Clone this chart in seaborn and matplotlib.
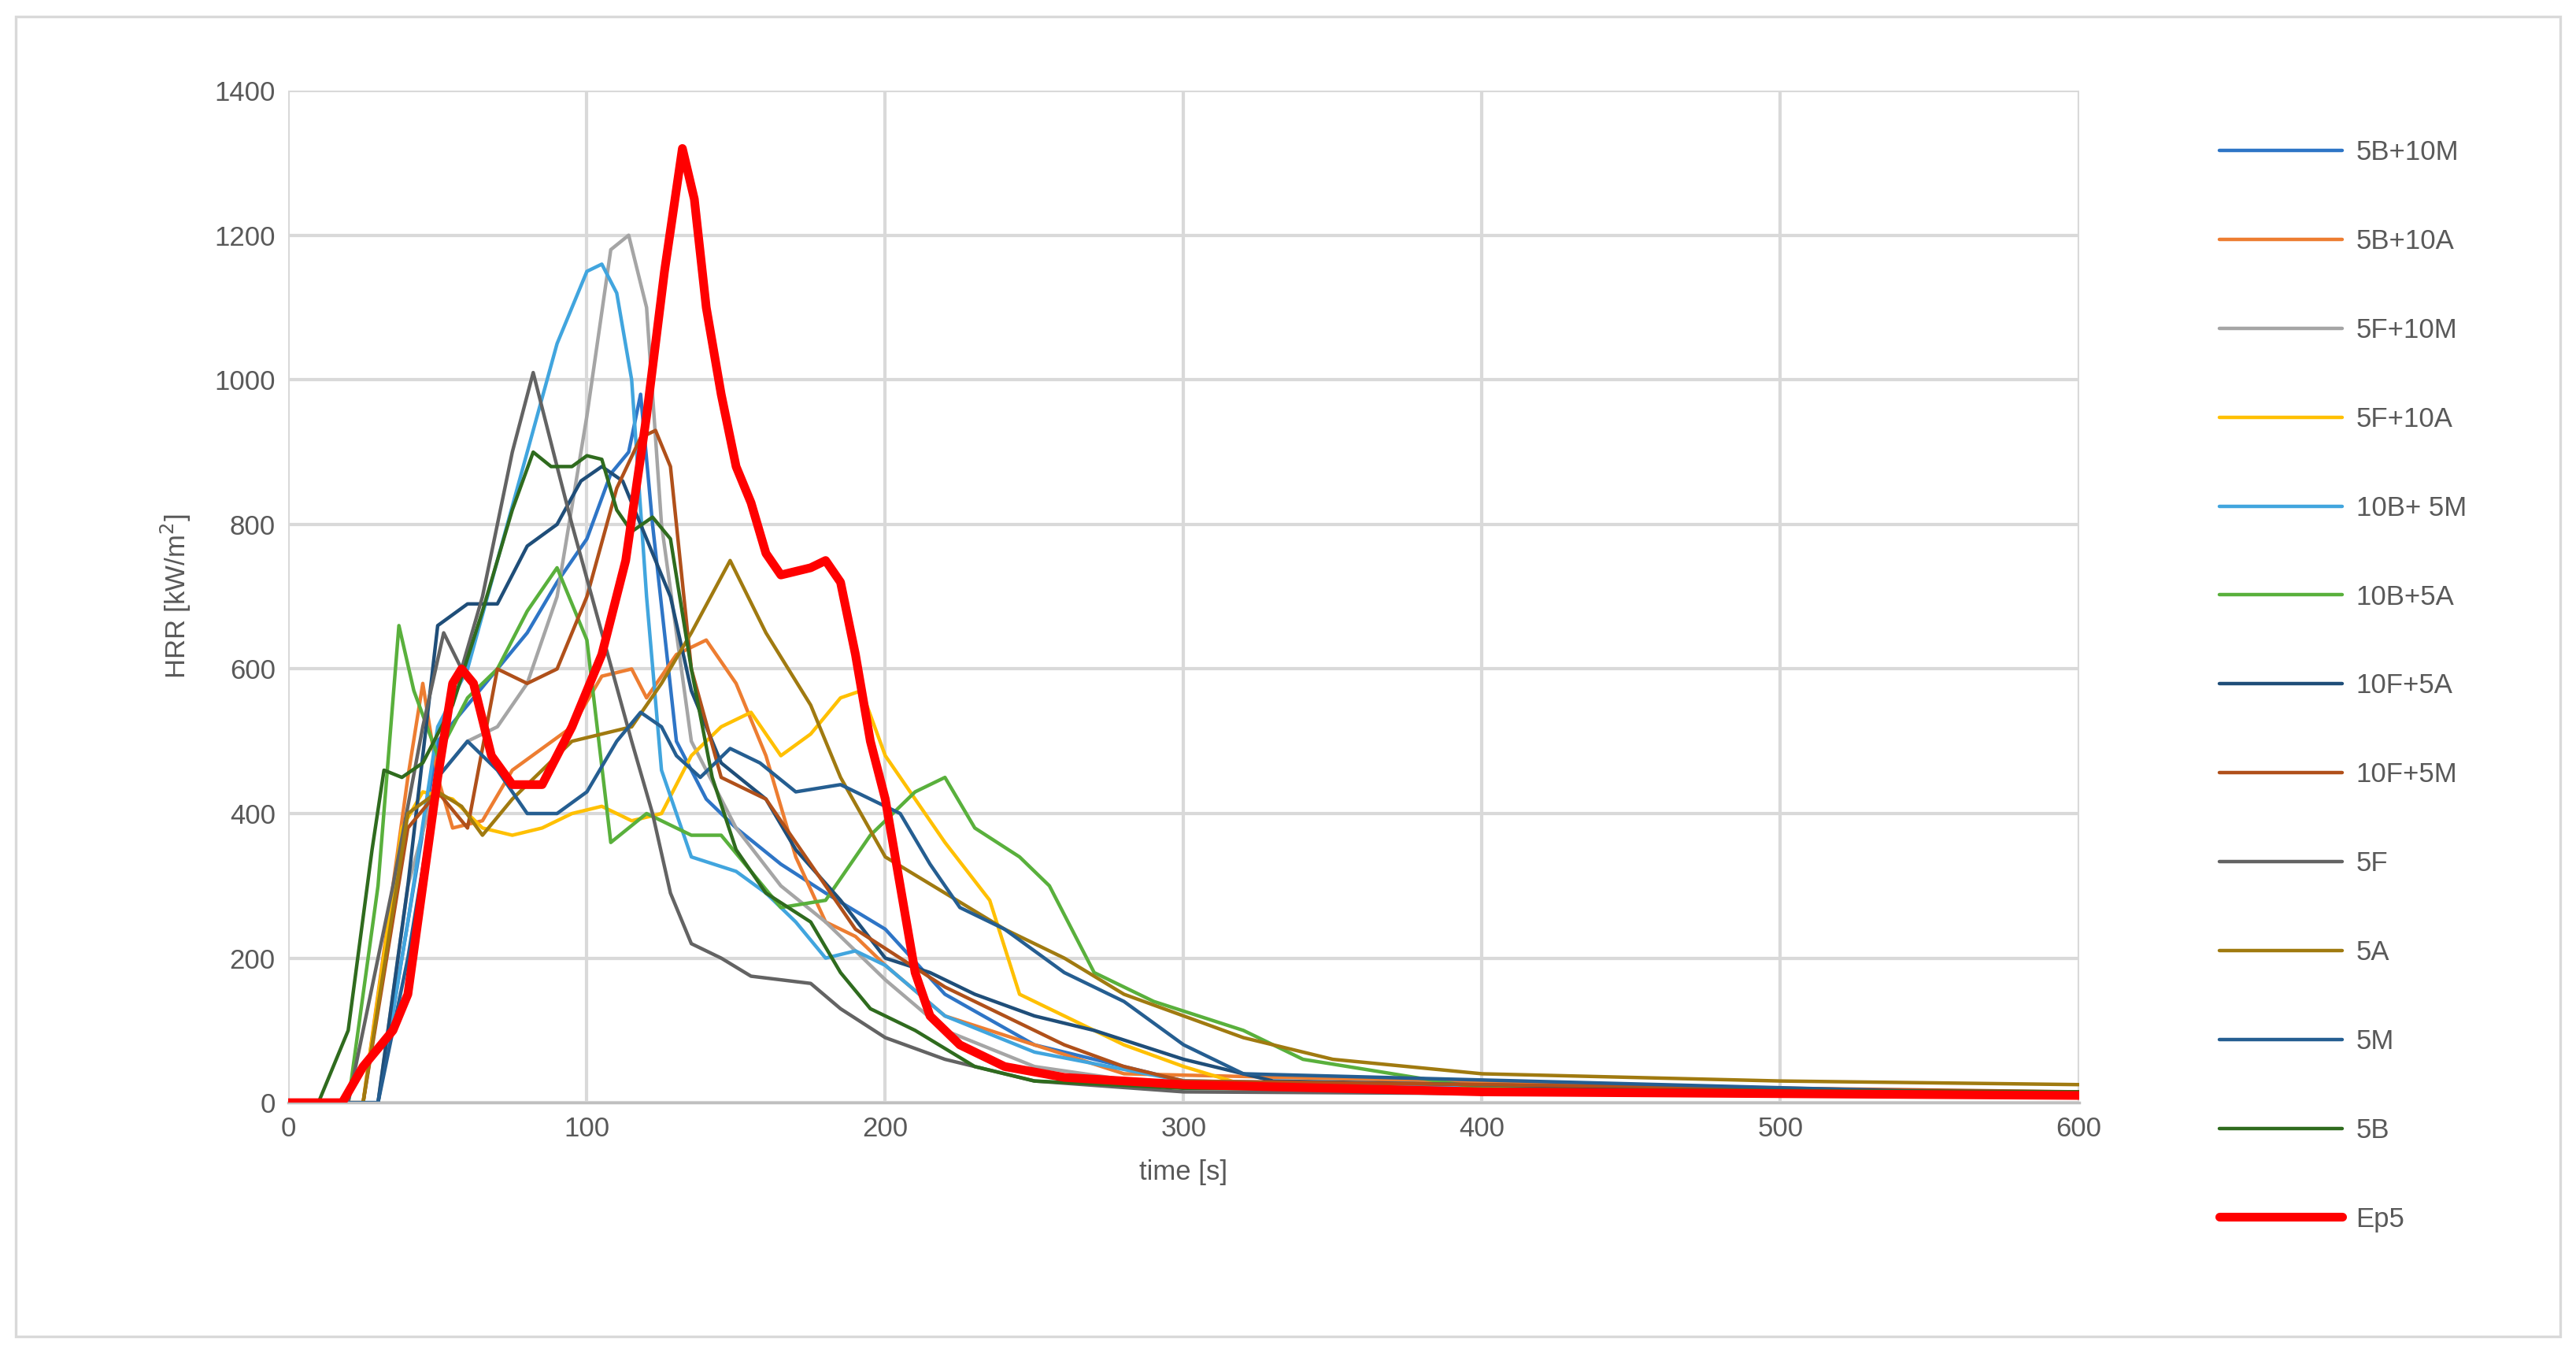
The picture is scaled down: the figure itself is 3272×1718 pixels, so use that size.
import matplotlib
matplotlib.use("Agg")
import matplotlib.pyplot as plt
import seaborn as sns
import pandas as pd
from matplotlib.patches import Rectangle

names = ["5B+10M","5B+10A","5F+10M","5F+10A","10B+ 5M","10B+5A","10F+5A","10F+5M","5F","5A","5M","5B","Ep5"]
colors = ["#2E75C6","#ED7D31","#A5A5A5","#FFC000","#41A5DE","#59B03C","#1F4E79","#B0501A","#636363","#A07A10","#255E91","#2F6B1E","#FF0000"]

t_5B10M = [0,30,40,50,60,70,80,90,100,108,114,118,122,130,140,150,165,180,200,220,250,300,600]
h_5B10M = [0,0,250,500,550,600,650,720,780,870,900,980,800,500,420,380,330,290,240,150,80,30,10]
t_5B10A = [0,25,40,45,50,55,65,75,85,95,105,115,120,130,140,150,160,170,180,190,200,220,250,280,600]
h_5B10A = [0,0,450,580,450,380,390,460,490,520,590,600,560,620,640,580,480,340,250,230,190,120,80,40,10]
t_5F10M = [0,30,40,50,60,70,80,90,100,108,114,120,125,135,150,165,180,200,220,250,300,600]
h_5F10M = [0,0,300,450,500,520,580,700,950,1180,1200,1100,800,500,380,300,250,170,100,50,20,10]
t_5F10A = [0,25,38,45,55,65,75,85,95,105,115,125,135,145,155,165,175,185,192,200,210,220,235,245,260,280,300,320,600]
h_5F10A = [0,0,380,430,420,380,370,380,400,410,390,400,480,520,540,480,510,560,570,480,420,360,280,150,120,80,50,25,10]
t_10B5M = [0,30,40,50,60,70,80,90,100,105,110,115,120,125,135,150,160,170,180,190,200,220,250,300,600]
h_10B5M = [0,0,250,520,600,750,900,1050,1150,1160,1120,1000,700,460,340,320,290,250,200,210,190,120,70,30,10]
t_10B5A = [0,20,30,37,42,50,60,70,80,90,100,108,120,135,145,155,165,180,195,210,220,230,245,255,270,290,320,340,400,600]
h_10B5A = [0,0,300,660,570,480,560,600,680,740,640,360,400,370,370,320,270,280,370,430,450,380,340,300,180,140,100,60,20,15]
t_10F5A = [0,30,40,50,60,70,80,90,98,105,112,120,128,135,145,160,170,185,200,215,230,250,270,300,330,600]
h_10F5A = [0,0,300,660,690,690,770,800,860,880,860,780,700,570,470,420,350,280,200,180,150,120,100,60,30,10]
t_10F5M = [0,25,40,50,60,70,80,90,100,110,118,123,128,135,145,160,175,190,205,220,240,260,280,300,600]
h_10F5M = [0,0,380,430,380,600,580,600,700,850,920,930,880,600,450,420,330,240,200,160,120,80,50,30,15]
t_5F = [0,20,35,45,52,58,65,75,82,90,95,105,115,122,128,135,145,155,175,185,200,220,250,300,600]
h_5F = [0,0,300,520,650,600,700,900,1010,880,800,650,500,400,290,220,200,175,165,130,90,60,30,15,8]
t_5A = [0,25,40,50,58,65,75,85,95,105,115,125,135,148,160,175,185,200,220,240,260,280,300,320,350,400,500,600]
h_5A = [0,0,400,430,410,370,420,460,500,510,520,580,650,750,650,550,450,340,290,240,200,150,120,90,60,40,30,25]
t_5M = [0,30,40,50,60,70,80,90,100,110,118,125,130,138,148,158,170,185,195,205,215,225,240,260,280,300,320,600]
h_5M = [0,0,200,450,500,460,400,400,430,500,540,520,480,450,490,470,430,440,420,400,330,270,240,180,140,80,40,10]
t_5B = [0,10,20,28,32,38,45,55,65,75,82,88,95,100,105,110,115,122,128,135,142,150,160,175,185,195,210,230,250,300,600]
h_5B = [0,0,100,350,460,450,470,550,680,820,900,880,880,895,890,820,790,810,780,600,450,350,290,250,180,130,100,50,30,20,15]
t_Ep5 = [0,18,25,35,40,45,50,55,58,62,68,75,85,95,105,113,120,126,132,136,140,145,150,155,160,165,175,180,185,190,195,200,205,210,215,225,240,260,300,400,600]
h_Ep5 = [0,0,50,100,150,300,450,580,600,580,480,440,440,520,620,750,950,1150,1320,1250,1100,980,880,830,760,730,740,750,720,620,500,420,300,180,120,80,50,35,25,15,10]

series = [(t_5B10M,h_5B10M),(t_5B10A,h_5B10A),(t_5F10M,h_5F10M),(t_5F10A,h_5F10A),
          (t_10B5M,h_10B5M),(t_10B5A,h_10B5A),(t_10F5A,h_10F5A),(t_10F5M,h_10F5M),
          (t_5F,h_5F),(t_5A,h_5A),(t_5M,h_5M),(t_5B,h_5B),(t_Ep5,h_Ep5)]

sns.set_theme(style="white")
plt.rcParams['font.family'] = ['Liberation Sans', 'DejaVu Sans']
fig = plt.figure(figsize=(16.36, 8.59), dpi=200)
ax = fig.add_axes([0.112, 0.185, 0.695, 0.748])
fig.patches.append(Rectangle((0.006, 0.012), 0.988, 0.976, transform=fig.transFigure,
                             fill=False, edgecolor="#D9D9D9", linewidth=1.2))

for name, col, (t, h) in zip(names, colors, series):
    df = pd.DataFrame({"t": t, "h": h})
    lw = 4.0 if name == "Ep5" else 1.6
    sns.lineplot(data=df, x="t", y="h", ax=ax, color=col, linewidth=lw, label=name, zorder=5 if name == "Ep5" else 2)

ax.set_xlim(0, 600)
ax.set_ylim(0, 1400)
ax.set_xticks(range(0, 601, 100))
ax.set_yticks(range(0, 1401, 200))
ax.grid(True, color="#D9D9D9", linewidth=1.5)
for s in ["top", "right", "left"]:
    ax.spines[s].set_visible(False)
ax.spines["bottom"].set_color("#BFBFBF")
ax.tick_params(colors="#595959", labelsize=12.5, length=0, pad=6)
ax.set_xlabel("time [s]", color="#595959", fontsize=12.5, labelpad=8)
ax.set_ylabel("HRR [kW/m$^2$]", color="#595959", fontsize=12.5, labelpad=10)
leg = ax.legend(loc="upper left", bbox_to_anchor=(0.852, 0.915), bbox_transform=fig.transFigure,
                frameon=False, fontsize=12.5, labelspacing=2.3, handlelength=4.5, handletextpad=0.5)
for txt in leg.get_texts():
    txt.set_color("#595959")
fig.savefig("out.png", dpi=200)
